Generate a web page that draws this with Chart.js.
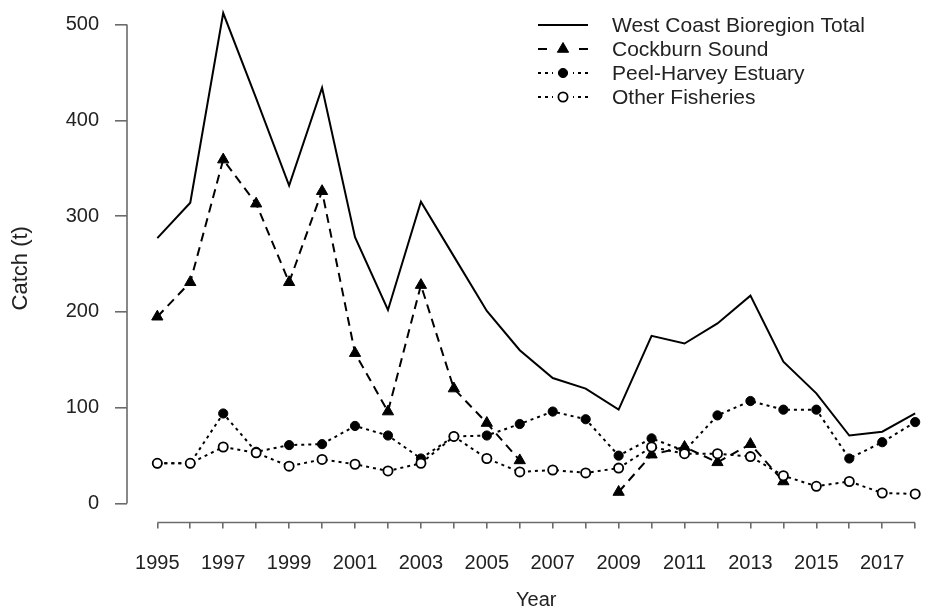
<!DOCTYPE html>
<html>
<head>
<meta charset="utf-8">
<script src="https://cdn.jsdelivr.net/npm/chart.js"></script>
<style>
  html, body { margin: 0; padding: 0; background: #fff; overflow: hidden; }
  #wrap { position: relative; width: 953px; height: 610px; }
</style>
</head>
<body>
<div id="wrap"><canvas id="catchChart"></canvas></div>
<script>
const years = [1995, 1996, 1997, 1998, 1999, 2000, 2001, 2002, 2003, 2004, 2005, 2006,
  2007, 2008, 2009, 2010, 2011, 2012, 2013, 2014, 2015, 2016, 2017, 2018];
const xLabelYears = [1995, 1997, 1999, 2001, 2003, 2005, 2007, 2009, 2011, 2013, 2015, 2017];
const yTicks = [0, 100, 200, 300, 400, 500];

const westCoastTotal = [277, 314, 512, 423, 332, 434, 278, 202, 315, 258, 201, 160,
  131, 120, 98, 175, 167, 188, 217, 148, 115, 71, 75, 94];
const cockburnSound = [195, 231, 359, 313, 231, 326, 157, 96, 228, 120, 84, 45,
  null, null, 12, 51, 59, 43, 62, 23, null, null, null, null];
const peelHarvey = [42, 42, 94, 54, 61, 62, 81, 71, 47, 70, 71, 83,
  96, 88, 50, 68, 55, 92, 107, 98, 98, 47, 64, 85];
const otherFisheries = [42, 42, 59, 53, 39, 46, 41, 34, 42, 70, 47, 33,
  35, 32, 37, 59, 52, 52, 49, 29, 18, 23, 11, 10];

const seriesLabels = ["West Coast Bioregion Total", "Cockburn Sound", "Peel-Harvey Estuary", "Other Fisheries"];

const fontFamily = "'Liberation Sans', Arial, Helvetica, sans-serif";
const axisColor = "#6b6b6b";
const textColor = "#222";

const toPoints = (vals) => years.map((yr, i) => ({ x: yr, y: vals[i] }));

// R-style axis lines: only span the tick range
const axisLines = {
  id: "axisLines",
  afterDraw(chart) {
    const { ctx, chartArea, scales } = chart;
    ctx.save();
    ctx.strokeStyle = axisColor;
    ctx.lineWidth = 1.6;
    ctx.beginPath();
    ctx.moveTo(chartArea.left, scales.y.getPixelForValue(yTicks[0]));
    ctx.lineTo(chartArea.left, scales.y.getPixelForValue(yTicks[yTicks.length - 1]));
    ctx.moveTo(scales.x.getPixelForValue(years[0]), chartArea.bottom);
    ctx.lineTo(scales.x.getPixelForValue(years[years.length - 1]), chartArea.bottom);
    ctx.stroke();
    ctx.restore();
  },
};

function drawMarker(ctx, style, r, x, y, fill) {
  ctx.beginPath();
  if (style === "triangle") {
    ctx.moveTo(x, y - r);
    ctx.lineTo(x + 0.866 * r, y + 0.5 * r);
    ctx.lineTo(x - 0.866 * r, y + 0.5 * r);
    ctx.closePath();
  } else {
    ctx.arc(x, y, r, 0, Math.PI * 2);
  }
  ctx.fillStyle = fill;
  ctx.fill();
  ctx.stroke();
}

// legend drawn like base R: line sample with marker in the middle
const rLegend = {
  id: "rLegend",
  afterDraw(chart) {
    const ctx = chart.ctx;
    const x0 = 538, x1 = 588, xm = 563;
    ctx.save();
    chart.data.datasets.forEach((ds, i) => {
      const y = 25 + i * 24;
      ctx.strokeStyle = "#000";
      ctx.lineWidth = 2;
      ctx.setLineDash(ds.borderDash || []);
      ctx.beginPath();
      if (ds.pointRadius > 0) {
        // dashes run out from each end, leaving room round the marker
        ctx.moveTo(x0, y);
        ctx.lineTo(xm - 10, y);
        ctx.moveTo(x1, y);
        ctx.lineTo(xm + 10, y);
      } else {
        ctx.moveTo(x0, y);
        ctx.lineTo(x1, y);
      }
      ctx.stroke();
      ctx.setLineDash([]);
      if (ds.pointRadius > 0) {
        ctx.lineWidth = ds.pointBorderWidth;
        drawMarker(ctx, ds.pointStyle, ds.pointRadius, xm, y, ds.pointBackgroundColor);
      }
      ctx.fillStyle = textColor;
      ctx.font = "21px " + fontFamily;
      ctx.textAlign = "left";
      ctx.textBaseline = "middle";
      ctx.fillText(ds.label, 612, y + 1);
    });
    ctx.restore();
  },
};

new Chart(document.getElementById("catchChart"), {
  type: "line",
  data: {
    datasets: [
      {
        label: seriesLabels[0],
        data: toPoints(westCoastTotal),
        borderColor: "#000",
        borderWidth: 2,
        pointRadius: 0,
        tension: 0,
        clip: false,
        order: 3,
      },
      {
        label: seriesLabels[1],
        data: toPoints(cockburnSound),
        borderColor: "#000",
        borderWidth: 2,
        borderDash: [9, 6],
        pointStyle: "triangle",
        pointRadius: 6.5,
        pointBackgroundColor: "#000",
        pointBorderColor: "#000",
        pointBorderWidth: 1,
        spanGaps: false,
        clip: false,
        order: 2,
      },
      {
        label: seriesLabels[2],
        data: toPoints(peelHarvey),
        borderColor: "#000",
        borderWidth: 2,
        borderDash: [3, 4],
        pointStyle: "circle",
        pointRadius: 4.6,
        pointBackgroundColor: "#000",
        pointBorderColor: "#000",
        pointBorderWidth: 1,
        clip: false,
        order: 1,
      },
      {
        label: seriesLabels[3],
        data: toPoints(otherFisheries),
        borderColor: "#000",
        borderWidth: 2,
        borderDash: [3, 4],
        pointStyle: "circle",
        pointRadius: 4.6,
        pointBackgroundColor: "#fff",
        pointBorderColor: "#000",
        pointBorderWidth: 1.8,
        clip: false,
        order: 0,
      },
    ],
  },
  options: {
    animation: false,
    responsive: true,
    maintainAspectRatio: false,
    events: [],
    layout: { padding: { top: 14, left: 0, right: 0, bottom: 0 } },
    plugins: {
      legend: { display: false },
      tooltip: { enabled: false },
    },
    scales: {
      x: {
        type: "linear",
        min: 1994.08,
        max: 2018.92,
        afterBuildTicks: (scale) => {
          scale.ticks = years.map((v) => ({ value: v }));
        },
        afterFit: (scale) => {
          scale.height = 87.5;
          scale.paddingLeft = 0;
          scale.paddingRight = 0;
        },
        ticks: {
          autoSkip: false,
          maxRotation: 0,
          minRotation: 0,
          padding: 23,
          color: textColor,
          font: { family: fontFamily, size: 20 },
          callback: (v) => (xLabelYears.includes(v) ? String(v) : ""),
        },
        grid: {
          drawOnChartArea: false,
          drawTicks: true,
          tickLength: 6,
          color: axisColor,
          lineWidth: 1.6,
        },
        border: { display: false },
        title: {
          display: true,
          text: "Year",
          color: textColor,
          font: { family: fontFamily, size: 20, lineHeight: 1 },
          padding: { top: 0, bottom: 0 },
        },
      },
      y: {
        min: -19.8,
        max: 511,
        afterBuildTicks: (scale) => {
          scale.ticks = yTicks.map((v) => ({ value: v }));
        },
        afterFit: (scale) => {
          scale.width = 127;
          scale.paddingTop = 0;
          scale.paddingBottom = 0;
        },
        ticks: {
          padding: 16,
          color: textColor,
          font: { family: fontFamily, size: 20 },
        },
        grid: {
          drawOnChartArea: false,
          drawTicks: true,
          tickLength: 12,
          color: axisColor,
          lineWidth: 1.6,
        },
        border: { display: false },
        title: {
          display: true,
          text: "Catch (t)",
          color: textColor,
          font: { family: fontFamily, size: 22 },
          padding: { top: 8, bottom: 0 },
        },
      },
    },
  },
  plugins: [axisLines, rLegend],
});
</script>
</body>
</html>
